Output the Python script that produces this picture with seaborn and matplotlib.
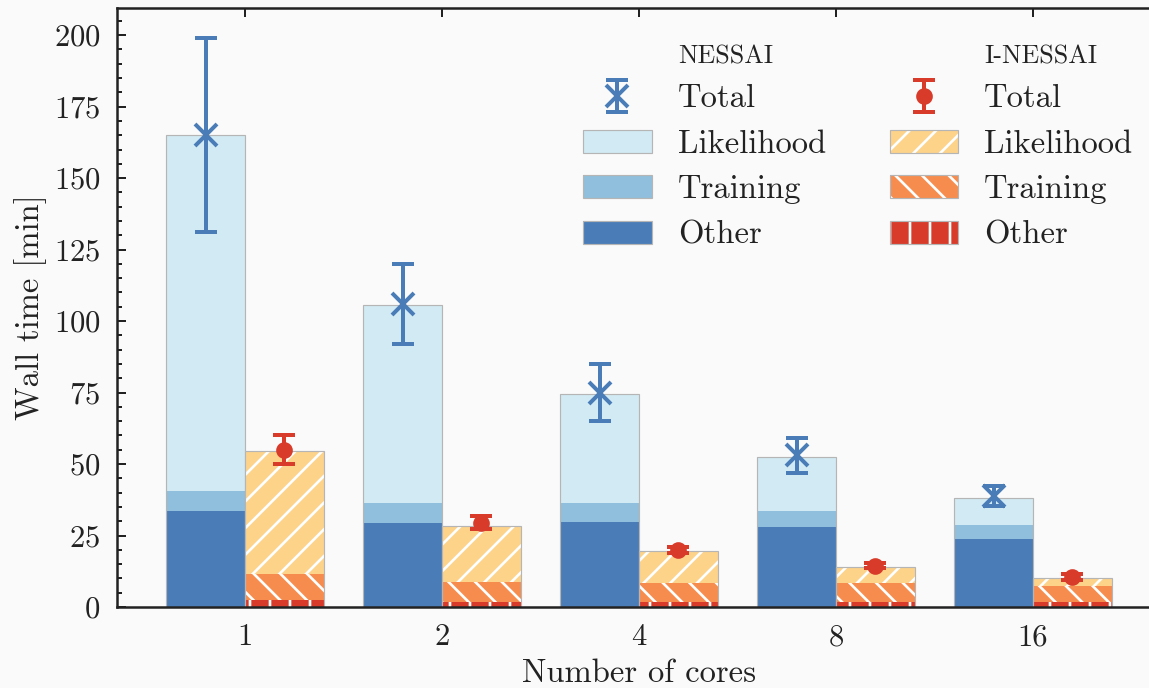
import numpy as np
import pandas as pd
import matplotlib
matplotlib.use("Agg")
import matplotlib.pyplot as plt
import seaborn as sns
from matplotlib.patches import Patch
from matplotlib.legend_handler import HandlerTuple
from matplotlib.ticker import MultipleLocator

# ---------------- data ----------------
cores = ["1", "2", "4", "8", "16"]

nessai_other = [33.6, 29.5, 29.7, 28.0, 23.8]
nessai_training = [7.0, 6.7, 6.7, 5.6, 4.9]
nessai_likelihood = [124.4, 69.3, 38.1, 18.8, 9.4]
nessai_total = [165.0, 106.0, 75.0, 53.0, 38.8]
nessai_err = [34.0, 14.0, 10.0, 6.0, 3.5]

inessai_other = [2.5, 1.8, 1.8, 1.8, 1.8]
inessai_training = [9.0, 6.9, 6.6, 6.6, 5.5]
inessai_likelihood = [43.0, 19.6, 11.2, 5.6, 2.8]
inessai_total = [55.0, 29.5, 20.0, 14.5, 10.5]
inessai_err = [5.0, 2.2, 1.0, 1.0, 1.0]

# ---------------- style ----------------
sns.set_theme(style="ticks")
plt.rcParams["font.family"] = ["cmr10", "DejaVu Serif"]
plt.rcParams["mathtext.fontset"] = "cm"
plt.rcParams["axes.formatter.use_mathtext"] = True
plt.rcParams["hatch.color"] = "white"
plt.rcParams["hatch.linewidth"] = 0.8

BG = "#fafafa"
TXT = "#222222"
c_n = {"lik": "#d2eaf4", "tr": "#8fbfdc", "oth": "#4a7db8", "tot": "#4a7db8"}
c_i = {"lik": "#fdd38a", "tr": "#f68d4e", "oth": "#d83b2a", "tot": "#d83b2a"}
EDGE = "#b5b5b5"
H_LIK, H_TR, H_OTH = "///", "\\\\\\", "||"

DPI = 240
fig = plt.figure(figsize=(1149 / DPI, 688 / DPI), dpi=DPI, facecolor=BG)
ax = fig.add_axes([117 / 1149, 81 / 688, (1161 - 117) / 1149, 599 / 688])
ax.set_facecolor(BG)

x = np.arange(len(cores))
W = 0.4


def stacked(xpos, other, training, likelihood, cols, hatches):
    other = np.asarray(other)
    training = np.asarray(training)
    likelihood = np.asarray(likelihood)
    top_tr = other + training
    top_lik = top_tr + likelihood
    for h, col, hat in [(top_lik, cols["lik"], hatches[0]),
                        (top_tr, cols["tr"], hatches[1]),
                        (other, cols["oth"], hatches[2])]:
        sns.barplot(x=xpos, y=h, native_scale=True, width=W, color=col,
                    saturation=1, errorbar=None, hatch=hat,
                    edgecolor="white", linewidth=0, ax=ax)
    ax.bar(xpos, top_lik, width=W, fill=False, edgecolor=EDGE, linewidth=0.35)


stacked(x - 0.2, nessai_other, nessai_training, nessai_likelihood, c_n, (None, None, None))
stacked(x + 0.2, inessai_other, inessai_training, inessai_likelihood, c_i, (H_LIK, H_TR, H_OTH))

eb_n = ax.errorbar(x - 0.2, nessai_total, yerr=nessai_err, fmt="x", color=c_n["tot"],
                   ms=6.5, mew=1.2, elinewidth=1.2, capsize=3.2, capthick=1.2, zorder=5)
eb_i = ax.errorbar(x + 0.2, inessai_total, yerr=inessai_err, fmt="o", color=c_i["tot"],
                   ms=4.0, elinewidth=1.2, capsize=3.2, capthick=1.2, zorder=5)

# ---------------- axes ----------------
ax.set_xlim(-0.65, 4.65)
ax.set_ylim(0, 209.5)
ax.set_xticks(x)
ax.set_xticklabels(cores)
ax.yaxis.set_major_locator(MultipleLocator(25))
ax.yaxis.set_minor_locator(MultipleLocator(5))
ax.tick_params(axis="both", which="both", direction="in", top=True, right=True,
               colors=TXT, labelsize=9.2, width=0.6)
ax.tick_params(axis="both", which="major", length=2.8, pad=5)
ax.tick_params(axis="y", which="minor", length=1.5)
ax.tick_params(axis="x", which="minor", bottom=False, top=False)
for s in ax.spines.values():
    s.set_linewidth(0.75)
    s.set_color(TXT)
ax.set_xlabel("Number of cores", fontsize=9.8, color=TXT, labelpad=2.5)
ax.set_ylabel("Wall time [min]", fontsize=9.8, color=TXT, labelpad=2.0)

# ---------------- legend ----------------
blank = Patch(facecolor="none", edgecolor="none")


def lp(col, hat):
    return (Patch(facecolor=col, edgecolor="white", linewidth=0, hatch=hat),
            Patch(facecolor="none", edgecolor=EDGE, linewidth=0.35))


handles = [blank, eb_n, lp(c_n["lik"], None), lp(c_n["tr"], None), lp(c_n["oth"], None),
           blank, eb_i, lp(c_i["lik"], H_LIK), lp(c_i["tr"], H_TR), lp(c_i["oth"], H_OTH)]
labels = ["NESSAI", "Total", "Likelihood", "Training", "Other",
          "I-NESSAI", "Total", "Likelihood", "Training", "Other"]
leg = ax.legend(handles, labels, ncol=2, loc="upper left",
                bbox_to_anchor=(583 / 1149, (688 - 40) / 688),
                bbox_transform=fig.transFigure, frameon=False, fontsize=9.8,
                handlelength=2.1, handleheight=0.72, handletextpad=0.8,
                columnspacing=1.95, labelspacing=0.5, borderpad=0, borderaxespad=0,
                handler_map={tuple: HandlerTuple(ndivide=1)})
for t in leg.get_texts():
    t.set_color(TXT)
for i in (0, 5):
    leg.get_texts()[i].set_fontsize(7.8)

fig.savefig("out.png", dpi=DPI, facecolor=BG)
